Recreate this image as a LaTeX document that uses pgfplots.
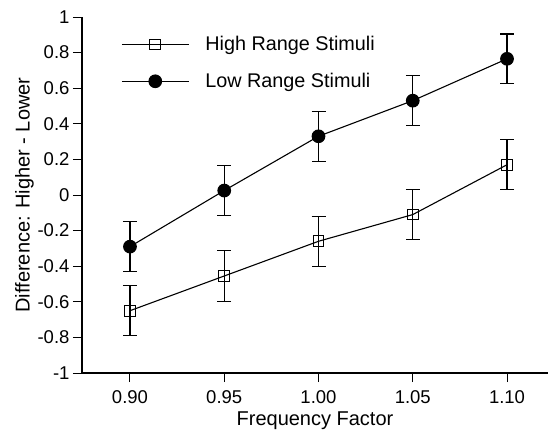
\documentclass[border=0pt]{standalone}
\usepackage{pgfplots}
\pgfplotsset{compat=1.18}
\usepackage{fontspec}
\setmainfont{Liberation Sans}
\begin{document}
\begin{tikzpicture}
\useasboundingbox (-82pt,-56pt) rectangle (466pt,373pt);
\begin{axis}[
  at={(0pt,0pt)}, anchor=south west,
  scale only axis, width=466pt, height=356pt,
  xmin=0.87455, xmax=1.12174, ymin=-1, ymax=1,
  axis lines=left, axis line style={-, line width=1.3pt},
  tick align=outside, major tick length=9pt,
  tick style={line width=1pt, black},
  xtick={0.90,0.95,1.00,1.05,1.10},
  xticklabels={0.90,0.95,1.00,1.05,1.10},
  ytick={-1,-0.8,-0.6,-0.4,-0.2,0,0.2,0.4,0.6,0.8,1},
  yticklabels={-1,-0.8,-0.6,-0.4,-0.2,0,0.2,0.4,0.6,0.8,1},
  ticklabel style={font=\fontsize{18.5}{22}\selectfont},
  xticklabel style={yshift=-5pt},
  xlabel={Frequency Factor}, ylabel={Difference: Higher - Lower},
  label style={font=\fontsize{20}{24}\selectfont},
  xlabel style={yshift=-1pt},
  ylabel style={yshift=-3pt},
  legend style={at={(0.0773,0.957)}, anchor=north west, draw=none, fill=none,
    font=\fontsize{19.8}{24}\selectfont, row sep=17pt},
  legend cell align=left,
  legend style={/tikz/every odd column/.append style={column sep=14pt}},
  legend image code/.code={\draw[mark repeat=2,mark phase=2,#1] plot coordinates {(0pt,0pt) (33.5pt,0pt) (67pt,0pt)};},
]
\addplot[black, line width=1.1pt, mark=square, mark size=5.3pt, mark options={fill=white, line width=1pt},
  error bars/.cd, y dir=both, y explicit, error bar style={line width=1.3pt}, error mark options={rotate=90, mark size=7pt, line width=1.3pt}]
  coordinates {
  (0.90,-0.65) +- (0,0.14)
  (0.95,-0.455) +- (0,0.145)
  (1.00,-0.26) +- (0,0.14)
  (1.05,-0.11) +- (0,0.14)
  (1.10,0.17) +- (0,0.14)
  };
\addlegendentry{High Range Stimuli}
\addplot[black, line width=1.1pt, mark=*, mark size=6.3pt, mark options={fill=black},
  error bars/.cd, y dir=both, y explicit, error bar style={line width=1.3pt}, error mark options={rotate=90, mark size=7pt, line width=1.3pt}]
  coordinates {
  (0.90,-0.29) +- (0,0.14)
  (0.95,0.025) +- (0,0.14)
  (1.00,0.33) +- (0,0.14)
  (1.05,0.53) +- (0,0.14)
  (1.10,0.765) +- (0,0.14)
  };
\addlegendentry{Low Range Stimuli}
\end{axis}
\end{tikzpicture}
\end{document}
